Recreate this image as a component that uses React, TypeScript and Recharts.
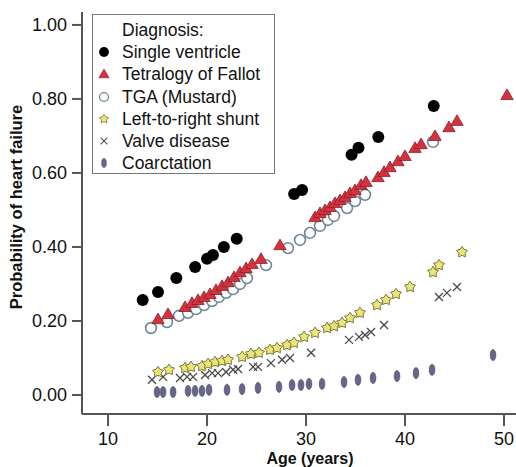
import React from 'react';
import { ScatterChart, Scatter, XAxis, YAxis, Legend } from 'recharts';

// ---- Data ----
const xTicks = [10, 20, 30, 40, 50];
const yTicks = [0, 0.2, 0.4, 0.6, 0.8, 1.0];

const svAge = [13.5, 15.05, 16.9, 18.8, 20.0, 20.6, 21.7, 23.0, 28.8, 29.6, 34.6, 35.3, 37.3, 42.9];
const svProb = [0.257, 0.278, 0.316, 0.346, 0.368, 0.378, 0.4, 0.422, 0.543, 0.554, 0.649, 0.668, 0.697, 0.781];

const tofAge = [15.05, 16.06, 17.78, 18.48, 19.09, 19.7, 20.3, 20.91, 21.52, 22.12, 22.73, 23.33, 23.94, 24.55, 25.45, 27.37, 30.91, 31.41, 31.92, 32.42, 32.93, 33.43, 33.94, 34.44, 34.95, 35.56, 36.06, 37.27, 37.88, 38.48, 39.29, 40.0, 41.01, 41.62, 43.03, 44.44, 45.25, 50.3];
const tofProb = [0.205, 0.219, 0.238, 0.249, 0.257, 0.265, 0.273, 0.284, 0.295, 0.305, 0.319, 0.332, 0.343, 0.354, 0.368, 0.405, 0.481, 0.492, 0.5, 0.508, 0.519, 0.527, 0.535, 0.546, 0.554, 0.568, 0.576, 0.589, 0.603, 0.616, 0.632, 0.646, 0.668, 0.678, 0.7, 0.724, 0.741, 0.811];

const tgaAge = [14.34, 15.96, 17.17, 18.08, 18.89, 19.7, 20.51, 21.21, 21.92, 22.63, 23.33, 24.04, 25.96, 28.18, 29.39, 30.4, 31.41, 32.22, 32.83, 34.14, 34.95, 35.96, 42.83];
const tgaProb = [0.181, 0.197, 0.214, 0.222, 0.232, 0.243, 0.254, 0.265, 0.276, 0.286, 0.3, 0.316, 0.351, 0.397, 0.419, 0.438, 0.457, 0.473, 0.484, 0.505, 0.524, 0.541, 0.684];

const shuntAge = [15.05, 16.16, 17.78, 18.38, 19.49, 20.1, 20.81, 21.52, 22.12, 23.54, 24.44, 25.25, 26.36, 27.07, 28.08, 28.79, 29.8, 30.91, 32.12, 32.83, 33.64, 34.44, 35.45, 37.17, 38.08, 39.09, 40.51, 42.83, 43.43, 45.76];
const shuntProb = [0.062, 0.068, 0.073, 0.076, 0.078, 0.084, 0.089, 0.092, 0.095, 0.103, 0.111, 0.114, 0.122, 0.127, 0.135, 0.141, 0.157, 0.168, 0.181, 0.186, 0.195, 0.208, 0.222, 0.243, 0.257, 0.273, 0.292, 0.332, 0.351, 0.386];

const valveAge = [14.44, 15.56, 17.27, 17.98, 18.59, 19.8, 20.51, 21.11, 21.92, 22.63, 23.13, 24.65, 25.15, 26.46, 27.58, 28.38, 30.51, 34.34, 35.35, 35.96, 36.57, 37.88, 43.43, 44.24, 45.25];
const valveProb = [0.041, 0.049, 0.046, 0.049, 0.049, 0.054, 0.059, 0.059, 0.062, 0.068, 0.07, 0.076, 0.076, 0.086, 0.095, 0.1, 0.114, 0.149, 0.157, 0.162, 0.17, 0.189, 0.265, 0.276, 0.292];

const coarcAge = [14.95, 15.56, 16.57, 18.08, 18.79, 19.49, 20.2, 22.02, 23.54, 25.15, 27.27, 28.59, 29.49, 30.3, 31.62, 33.84, 35.25, 36.77, 39.19, 41.11, 42.73, 48.89];
const coarcProb = [0.008, 0.008, 0.008, 0.011, 0.011, 0.011, 0.014, 0.014, 0.016, 0.019, 0.022, 0.027, 0.027, 0.03, 0.03, 0.035, 0.041, 0.046, 0.051, 0.059, 0.068, 0.108];

const seriesNames = ['Single ventricle', 'Tetralogy of Fallot', 'TGA (Mustard)', 'Left-to-right shunt', 'Valve disease', 'Coarctation'];

const toPoints = (ages: number[], probs: number[]) => ages.map((x, i) => ({ x, y: probs[i] }));

const FONT = '"Liberation Sans", Arial, Helvetica, sans-serif';

// ---- Marker shapes ----
const Dot = ({ cx, cy }: any) => <circle cx={cx} cy={cy} r={6} fill="#000" />;
const Tri = ({ cx, cy }: any) => (
  <polygon
    points={`${cx},${cy - 6} ${cx + 6.2},${cy + 4.6} ${cx - 6.2},${cy + 4.6}`}
    fill="#d3323e"
    stroke="#8e1e28"
    strokeWidth={0.8}
  />
);
const Ring = ({ cx, cy }: any) => <circle cx={cx} cy={cy} r={5.4} fill="#fff" stroke="#6d8796" strokeWidth={1.6} />;
const starPath = (cx: number, cy: number, ro: number, ri: number) => {
  let d = '';
  for (let i = 0; i < 10; i++) {
    const r = i % 2 === 0 ? ro : ri;
    const a = -Math.PI / 2 + (i * Math.PI) / 5;
    d += (i === 0 ? 'M' : 'L') + (cx + r * Math.cos(a)).toFixed(2) + ',' + (cy + r * Math.sin(a)).toFixed(2);
  }
  return d + 'Z';
};
const Star = ({ cx, cy }: any) => <path d={starPath(cx, cy, 5.8, 3.3)} fill="#ebe57a" stroke="#7c7a38" strokeWidth={1} />;
const Cross = ({ cx, cy }: any) => (
  <g stroke="#4a4a4a" strokeWidth={1.3}>
    <line x1={cx - 4} y1={cy - 4} x2={cx + 4} y2={cy + 4} />
    <line x1={cx - 4} y1={cy + 4} x2={cx + 4} y2={cy - 4} />
  </g>
);
const Oval = ({ cx, cy }: any) => (
  <ellipse cx={cx} cy={cy} rx={2.9} ry={5.6} fill="#66668a" stroke="#4c4c68" strokeWidth={0.6} />
);

const legendShapes = [Dot, Tri, Ring, Star, Cross, Oval];

const LegendBox = () => (
  <div
    style={{
      width: 183,
      height: 160,
      border: '1.5px solid #777',
      background: '#fff',
      fontFamily: FONT,
      fontSize: 17.5,
      color: '#111',
      boxSizing: 'border-box',
      paddingTop: 4,
    }}
  >
    <div style={{ height: 22.2, lineHeight: '22.2px', paddingLeft: 29 }}>Diagnosis:</div>
    {seriesNames.map((name, i) => {
      const Shape = legendShapes[i];
      return (
        <div key={name} style={{ height: 22.2, lineHeight: '22.2px', display: 'flex', alignItems: 'center', whiteSpace: 'nowrap' }}>
          <svg width={26} height={22} style={{ marginLeft: 3, flex: 'none' }}>
            <g transform="translate(8,11) scale(0.82) translate(-8,-11)">
              <Shape cx={8} cy={11} />
            </g>
          </svg>
          <span>{name}</span>
        </div>
      );
    })}
  </div>
);

const YLabel = () => (
  <text
    x={0}
    y={0}
    transform="translate(16,207) rotate(-90)"
    textAnchor="middle"
    dominantBaseline="central"
    fontFamily={FONT}
    fontWeight="bold"
    fontSize={16.5}
    fill="#111"
  >
    Probability of heart failure
  </text>
);

const XLabel = () => (
  <text x={310} y={464} textAnchor="middle" fontFamily={FONT} fontWeight="bold" fontSize={16} fill="#111">
    Age (years)
  </text>
);

export default function App() {
  return (
    <div style={{ position: 'absolute', left: 0, top: 0, width: 516, height: 467, background: '#fff' }}>
      <ScatterChart width={516} height={467} margin={{ top: 12, right: 0, bottom: 0, left: 0 }}>
        <XAxis
          type="number"
          dataKey="x"
          domain={[7.37, 51.21]}
          ticks={xTicks}
          interval={0}
          allowDataOverflow
          height={53}
          stroke="#555"
          axisLine={{ stroke: '#555', strokeWidth: 2 }}
          tickLine={{ stroke: '#555', strokeWidth: 2 }}
          tickSize={12}
          tickMargin={6}
          tick={{ fill: '#111', fontSize: 18, fontFamily: FONT }}
          label={XLabel}
        />
        <YAxis
          type="number"
          dataKey="y"
          domain={[-0.0514, 1.035]}
          ticks={yTicks}
          interval={0}
          allowDataOverflow
          width={82}
          stroke="#555"
          axisLine={{ stroke: '#555', strokeWidth: 2 }}
          tickLine={{ stroke: '#555', strokeWidth: 2 }}
          tickSize={10}
          tickMargin={5}
          tickFormatter={(v: number) => v.toFixed(2)}
          tick={{ fill: '#111', fontSize: 18, fontFamily: FONT }}
          label={YLabel}
        />
        <Legend
          layout="horizontal"
          verticalAlign="middle"
          align="center"
          content={LegendBox}
          wrapperStyle={{ position: 'absolute', left: 92, top: 14, width: 185, height: 162 }}
        />
        <Scatter name={seriesNames[5]} data={toPoints(coarcAge, coarcProb)} shape={Oval} isAnimationActive={false} />
        <Scatter name={seriesNames[4]} data={toPoints(valveAge, valveProb)} shape={Cross} isAnimationActive={false} />
        <Scatter name={seriesNames[3]} data={toPoints(shuntAge, shuntProb)} shape={Star} isAnimationActive={false} />
        <Scatter name={seriesNames[2]} data={toPoints(tgaAge, tgaProb)} shape={Ring} isAnimationActive={false} />
        <Scatter name={seriesNames[1]} data={toPoints(tofAge, tofProb)} shape={Tri} isAnimationActive={false} />
        <Scatter name={seriesNames[0]} data={toPoints(svAge, svProb)} shape={Dot} isAnimationActive={false} />
      </ScatterChart>
    </div>
  );
}
